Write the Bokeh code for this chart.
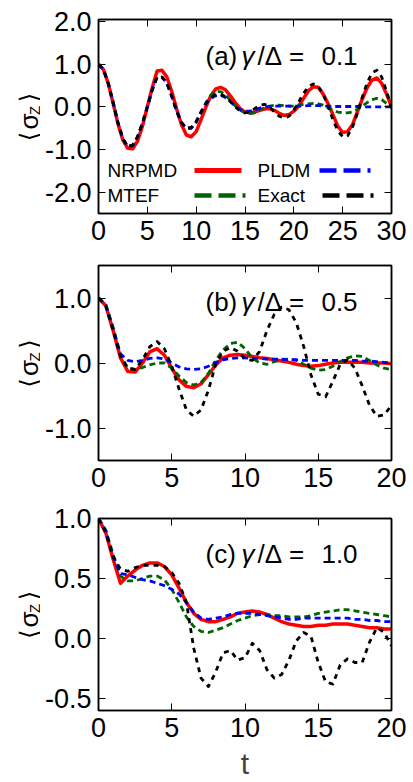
import numpy as np
from bokeh.plotting import figure
from bokeh.layouts import column, row
from bokeh.models import LinearAxis, FixedTicker, NumeralTickFormatter, Label, Arrow, Range1d
from bokeh.core.properties import value
from bokeh.embed import file_html
from bokeh.resources import INLINE

FONT = "Liberation Sans"

# ---------------- data: <sigma_z>(t) for the four methods ----------------
# (a) gamma/Delta = 0.1, t = 0 .. 30, step 0.5
t_a = np.arange(0, 30.01, 0.5)
nrpmd_a = [1.0, 0.88, 0.55, 0.08, -0.4, -0.78, -0.97, -0.98, -0.8, -0.45,
           0.0, 0.45, 0.84, 0.86, 0.7, 0.36, -0.05, -0.42, -0.66, -0.70,
           -0.58, -0.3, 0.0, 0.26, 0.42, 0.46, 0.4, 0.26, 0.1, -0.04,
           -0.12, -0.14, -0.12, -0.08, -0.05, -0.04, -0.08, -0.15, -0.2, -0.18,
           -0.1, 0.02, 0.2, 0.38, 0.47, 0.46, 0.3, 0.08, -0.18, -0.45,
           -0.6, -0.58, -0.42, -0.12, 0.18, 0.45, 0.63, 0.68, 0.55, 0.3,
           0.0]
mtef_a = [1.0, 0.88, 0.55, 0.1, -0.38, -0.75, -0.93, -0.9, -0.7, -0.38,
          0.0, 0.4, 0.7, 0.7, 0.56, 0.25, -0.1, -0.37, -0.5, -0.5,
          -0.36, -0.12, 0.1, 0.27, 0.36, 0.36, 0.28, 0.15, 0.02, -0.08,
          -0.14, -0.16, -0.14, -0.08, -0.02, 0.02, 0.04, 0.04, 0.03, 0.02,
          0.02, 0.04, 0.06, 0.07, 0.08, 0.07, 0.04, -0.02, -0.08, -0.12,
          -0.14, -0.14, -0.12, -0.06, 0.02, 0.1, 0.17, 0.2, 0.17, 0.08,
          -0.02]
pldm_a = [1.0, 0.88, 0.55, 0.1, -0.38, -0.75, -0.93, -0.9, -0.7, -0.38,
          0.0, 0.4, 0.7, 0.7, 0.56, 0.25, -0.1, -0.37, -0.5, -0.5,
          -0.36, -0.12, 0.08, 0.2, 0.26, 0.27, 0.22, 0.12, 0.02, -0.06,
          -0.1, -0.1, -0.07, -0.03, 0.0, 0.01, 0.02, 0.02, 0.02, 0.02,
          0.02, 0.02, 0.02, 0.03, 0.03, 0.03, 0.02, 0.02, 0.01, 0.01,
          0.01, 0.01, 0.01, 0.01, 0.0, 0.0, 0.0, 0.0, 0.0, 0.0,
          0.0]
exact_a = [1.0, 0.88, 0.55, 0.1, -0.38, -0.75, -0.93, -0.9, -0.7, -0.38,
           0.0, 0.4, 0.7, 0.7, 0.56, 0.25, -0.1, -0.37, -0.5, -0.48,
           -0.34, -0.12, 0.08, 0.22, 0.29, 0.30, 0.24, 0.13, 0.0, -0.1,
           -0.14, -0.12, -0.04, 0.04, 0.06, 0.0, -0.12, -0.22, -0.26, -0.22,
           -0.08, 0.12, 0.32, 0.48, 0.54, 0.48, 0.3, 0.02, -0.3, -0.56,
           -0.7, -0.68, -0.48, -0.15, 0.22, 0.56, 0.8, 0.86, 0.7, 0.36,
           -0.02]

# (b) gamma/Delta = 0.5, t = 0 .. 20, step 0.5
t_b = np.arange(0, 20.01, 0.5)
nrpmd_b = [1.0, 0.88, 0.5, 0.08, -0.13, -0.14, 0.0, 0.17, 0.22, 0.12,
           -0.08, -0.26, -0.36, -0.38, -0.32, -0.18, -0.03, 0.08, 0.12, 0.13,
           0.12, 0.1, 0.08, 0.07, 0.05, 0.03, 0.01, -0.02, -0.04, -0.05,
           -0.04, -0.02, 0.0, 0.01, 0.01, 0.01, 0.01, 0.0, 0.0, 0.0,
           -0.01]
mtef_b = [1.0, 0.9, 0.55, 0.12, -0.08, -0.1, -0.07, -0.03, 0.0, 0.0,
          -0.08, -0.2, -0.3, -0.34, -0.3, -0.16, 0.04, 0.2, 0.3, 0.32,
          0.22, 0.08, 0.0, -0.02, 0.02, 0.05, 0.06, 0.04, -0.02, -0.08,
          -0.11, -0.1, -0.05, 0.02, 0.08, 0.11, 0.1, 0.04, -0.03, -0.08,
          -0.1]
pldm_b = [1.0, 0.88, 0.52, 0.14, 0.04, 0.02, 0.04, 0.07, 0.08, 0.06,
          0.0, -0.06, -0.09, -0.1, -0.09, -0.05, 0.01, 0.05, 0.07, 0.08,
          0.08, 0.07, 0.07, 0.06, 0.06, 0.06, 0.05, 0.05, 0.04, 0.04,
          0.04, 0.04, 0.04, 0.04, 0.04, 0.04, 0.03, 0.03, 0.02, 0.01,
          0.0]
exact_b = [1.0, 0.88, 0.5, 0.1, -0.08, -0.1, 0.05, 0.25, 0.33, 0.22,
           -0.05, -0.4, -0.72, -0.82, -0.72, -0.42, -0.02, 0.18, 0.24, 0.18,
           0.06, 0.04, 0.18, 0.5, 0.75, 0.86, 0.82, 0.62, 0.26, -0.18,
           -0.48, -0.52, -0.28, -0.02, 0.05, -0.08, -0.35, -0.65, -0.82, -0.8,
           -0.65]

# (c) gamma/Delta = 1.0, t = 0 .. 20, step 0.5
t_c = np.arange(0, 20.01, 0.5)
nrpmd_c = [1.0, 0.88, 0.66, 0.46, 0.52, 0.57, 0.61, 0.63, 0.63, 0.6,
           0.53, 0.42, 0.3, 0.21, 0.16, 0.14, 0.14, 0.16, 0.18, 0.21,
           0.22, 0.23, 0.22, 0.2, 0.17, 0.14, 0.12, 0.11, 0.1, 0.1,
           0.11, 0.11, 0.12, 0.12, 0.12, 0.11, 0.1, 0.09, 0.09, 0.08,
           0.08]
mtef_c = [1.0, 0.9, 0.7, 0.52, 0.48, 0.48, 0.5, 0.52, 0.52, 0.49,
          0.41, 0.3, 0.18, 0.1, 0.06, 0.05, 0.07, 0.09, 0.12, 0.15,
          0.17, 0.19, 0.2, 0.2, 0.19, 0.19, 0.18, 0.18, 0.18, 0.19,
          0.21, 0.22, 0.23, 0.24, 0.24, 0.23, 0.22, 0.21, 0.2, 0.19,
          0.18]
pldm_c = [1.0, 0.9, 0.68, 0.54, 0.53, 0.51, 0.49, 0.48, 0.46, 0.44,
          0.41, 0.37, 0.3, 0.22, 0.17, 0.16, 0.17, 0.18, 0.2, 0.21,
          0.21, 0.21, 0.2, 0.19, 0.18, 0.17, 0.16, 0.16, 0.17, 0.17,
          0.17, 0.17, 0.17, 0.17, 0.17, 0.16, 0.16, 0.15, 0.15, 0.14,
          0.14]
exact_c = [1.0, 0.88, 0.68, 0.58, 0.56, 0.59, 0.61, 0.61, 0.61, 0.6,
           0.55, 0.46, 0.3, -0.08, -0.33, -0.4, -0.28, -0.12, -0.1, -0.18,
           -0.16, -0.04, -0.1, -0.26, -0.33, -0.3, -0.18, -0.02, 0.05, 0.02,
           -0.2, -0.36, -0.38, -0.22, -0.17, -0.2, -0.2, -0.03, 0.09, 0.05,
           -0.06]

methods = ["NRPMD", "MTEF", "PLDM", "Exact"]
colors = {"NRPMD": "#ff0000", "MTEF": "#006400", "PLDM": "#0000ff", "Exact": "#000000"}
dashes = {"NRPMD": "solid", "MTEF": "6 4", "PLDM": "6 4", "Exact": "5 5"}
widths = {"NRPMD": 3.5, "MTEF": 2.8, "PLDM": 2.8, "Exact": 2.8}

panels = [
    dict(tag="(a)", ratio="0.1", t=t_a,
         ys={"NRPMD": nrpmd_a, "MTEF": mtef_a, "PLDM": pldm_a, "Exact": exact_a},
         xmax=30, ylo=-2.5, yhi=2.05, xticks=[0, 5, 10, 15, 20, 25, 30],
         yticks=[-2.0, -1.0, 0.0, 1.0, 2.0], height=252, top=19, bottom=39),
    dict(tag="(b)", ratio="0.5", t=t_b,
         ys={"NRPMD": nrpmd_b, "MTEF": mtef_b, "PLDM": pldm_b, "Exact": exact_b},
         xmax=20, ylo=-1.5, yhi=1.5, xticks=[0, 5, 10, 15, 20],
         yticks=[-1.0, 0.0, 1.0], height=253, top=13, bottom=45),
    dict(tag="(c)", ratio="1.0", t=t_c,
         ys={"NRPMD": nrpmd_c, "MTEF": mtef_c, "PLDM": pldm_c, "Exact": exact_c},
         xmax=20, ylo=-0.6, yhi=1.0, xticks=[0, 5, 10, 15, 20],
         yticks=[-0.5, 0.0, 0.5, 1.0], height=277, top=13, bottom=71),
]

TICK_FS = "27px"
LABEL_W = 40          # strip holding the vertical <sigma_Z> title
LEFT, RIGHT = 58, 22  # borders of the main panel (frame starts at x = 98)


def style_axis(ax, ticks, fmt, show_labels=True):
    ax.ticker = FixedTicker(ticks=ticks)
    ax.formatter = NumeralTickFormatter(format=fmt)
    ax.major_tick_in = 7
    ax.major_tick_out = 0
    ax.major_tick_line_color = "black"
    ax.major_tick_line_width = 1
    ax.minor_tick_line_color = None
    ax.axis_line_color = "black"
    ax.axis_line_width = 1.5
    ax.major_label_text_font = FONT
    if show_labels:
        ax.major_label_text_font_size = TICK_FS
        ax.major_label_text_color = "black"
        ax.major_label_standoff = 7
    else:
        ax.major_label_text_font_size = "0px"
        ax.major_label_text_color = None
        ax.major_label_standoff = 0


rows = []
for i, cfg in enumerate(panels):
    H = cfg["height"]
    fh = H - cfg["top"] - cfg["bottom"]
    p = figure(width=413 - LABEL_W, height=H,
               x_range=Range1d(0, cfg["xmax"]), y_range=Range1d(cfg["ylo"], cfg["yhi"]),
               output_backend="svg", toolbar_location=None,
               min_border_left=LEFT, min_border_right=RIGHT,
               min_border_top=cfg["top"], min_border_bottom=cfg["bottom"])
    p.grid.visible = False
    p.outline_line_color = "black"
    p.outline_line_width = 1.5

    bottom_ax = p.xaxis[0]
    left_ax = p.yaxis[0]
    style_axis(bottom_ax, cfg["xticks"], "0")
    style_axis(left_ax, cfg["yticks"], "0.0")

    top_ax = LinearAxis()
    style_axis(top_ax, cfg["xticks"], "0", show_labels=False)
    p.add_layout(top_ax, "above")
    right_ax = LinearAxis()
    style_axis(right_ax, cfg["yticks"], "0.0", show_labels=False)
    p.add_layout(right_ax, "right")

    for m in methods:
        p.line(cfg["t"], cfg["ys"][m], line_color=colors[m], line_width=widths[m],
               line_dash=dashes[m], line_cap="butt", line_join="round")

    # panel tag  "(x) γ/Δ = r"
    by = fh - 36
    common = dict(x_units="screen", y_units="screen", text_font=FONT,
                  text_font_size="26px", text_color="black", text_baseline="alphabetic")
    p.add_layout(Label(x=107, y=by, text=cfg["tag"], text_align="left", **common))
    p.add_layout(Label(x=143, y=by, text="γ", text_align="left",
                       text_font_style="italic", **common))
    p.add_layout(Label(x=159, y=by, text="/Δ", text_align="left", **common))
    p.add_layout(Label(x=198, y=by, text="=", text_align="center", **common))
    p.add_layout(Label(x=241, y=by, text=cfg["ratio"], text_align="center", **common))

    if i == 0:
        leg = dict(x_units="screen", y_units="screen", text_font=FONT,
                   text_font_size="19px", text_color="black",
                   text_baseline="middle", text_align="left")
        entries = [("NRPMD", 9, 43, 96, 143), ("PLDM", 159, 43, 221, 272),
                   ("MTEF", 9, 18, 96, 147), ("Exact", 159, 18, 224, 275)]
        for name, tx, ty, x0, x1 in entries:
            p.add_layout(Label(x=tx, y=ty, text=name, **leg))
            p.add_layout(Arrow(x_start=x0, y_start=ty, x_end=x1, y_end=ty,
                               start_units="screen", end_units="screen",
                               start=None, end=None, line_color=colors[name],
                               line_width=5 if name == "NRPMD" else 4.5,
                               line_dash="solid" if name == "NRPMD" else "17 7"))

    if i == 2:
        bottom_ax.axis_label = "t"
        bottom_ax.axis_label_text_font = FONT
        bottom_ax.axis_label_text_font_size = "30px"
        bottom_ax.axis_label_text_font_style = "normal"
        bottom_ax.axis_label_standoff = 7

    # vertical title strip: ⟨σ_Z⟩ read bottom-to-top.  Its frame is aligned with
    # the panel frame by the row layout, so its y range spans the frame height.
    lf = figure(width=LABEL_W, height=H, x_range=Range1d(0, LABEL_W), y_range=Range1d(0, fh),
                output_backend="svg", toolbar_location=None,
                min_border=0, min_border_left=0, min_border_right=0,
                min_border_top=0, min_border_bottom=0,
                x_axis_location=None, y_axis_location=None)
    lf.grid.visible = False
    lf.outline_line_color = None
    cy = fh / 2
    txt = dict(angle=np.pi / 2, text_color="black",
               text_baseline="alphabetic", text_align="center")
    lf.text(x=[28], y=[cy - 20], text=["⟨"], text_font=value("DejaVu Sans"),
            text_font_size="24px", **txt)
    lf.text(x=[28], y=[cy - 5], text=["σ"], text_font=value(FONT),
            text_font_size="26px", **txt)
    lf.text(x=[34], y=[cy + 6], text=["Z"], text_font=value(FONT),
            text_font_size="15px", **txt)
    lf.text(x=[28], y=[cy + 19], text=["⟩"], text_font=value("DejaVu Sans"),
            text_font_size="24px", **txt)

    rows.append(row(lf, p, spacing=0))

layout = column(*rows, spacing=0)
open("out.html", "w").write(file_html(layout, INLINE))
